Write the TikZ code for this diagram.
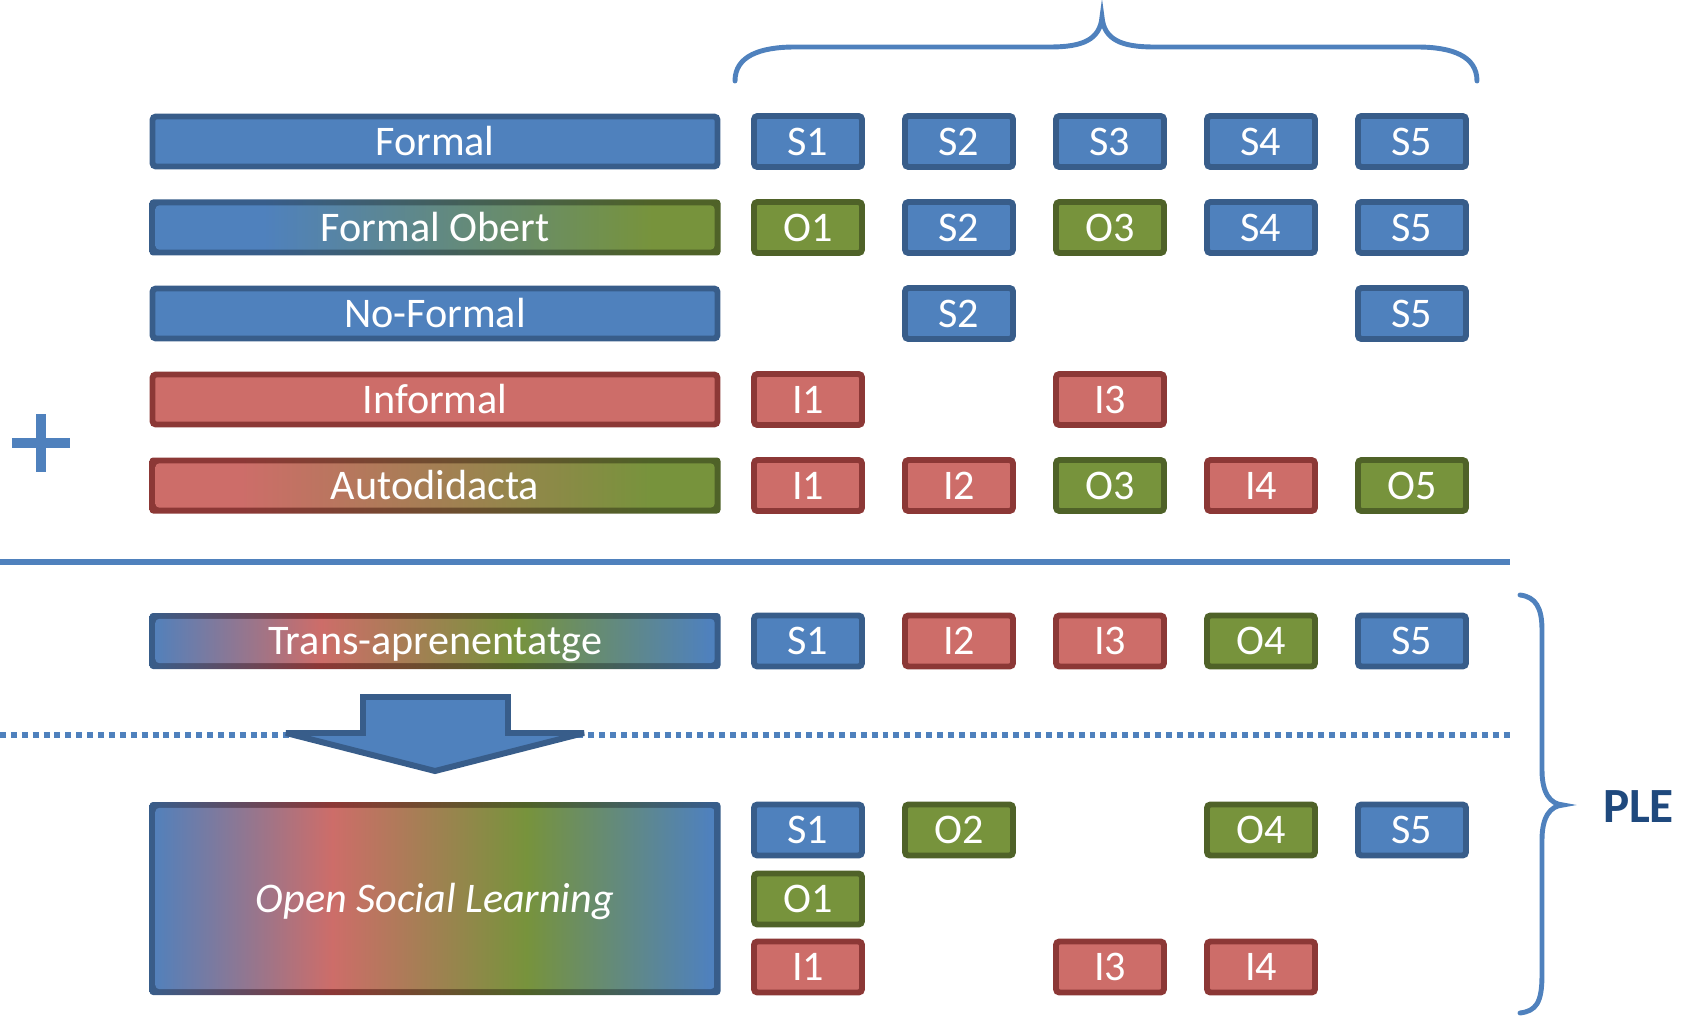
\documentclass[tikz,border=0pt]{standalone}
\usepackage{fontspec}
\setmainfont{Carlito}
\usepackage{xcolor}
\definecolor{colS}{RGB}{79,129,189}
\definecolor{colSd}{RGB}{56,93,138}
\definecolor{colI}{RGB}{205,109,105}
\definecolor{colId}{RGB}{140,56,54}
\definecolor{colO}{RGB}{119,147,60}
\definecolor{colOd}{RGB}{79,98,40}
\definecolor{colPLE}{RGB}{31,73,125}
\usepackage{tikz}

% gradients (path is mapped onto 25bp..75bp)
\pgfdeclarehorizontalshading{obert}{100bp}{color(0bp)=(colS); color(35bp)=(colS); color(69bp)=(colO); color(100bp)=(colO)}
\pgfdeclarehorizontalshading{obertd}{100bp}{color(0bp)=(colSd); color(35bp)=(colSd); color(69bp)=(colOd); color(100bp)=(colOd)}
\pgfdeclarehorizontalshading{autod}{100bp}{color(0bp)=(colI); color(33bp)=(colI); color(69bp)=(colO); color(100bp)=(colO)}
\pgfdeclarehorizontalshading{autodd}{100bp}{color(0bp)=(colId); color(33bp)=(colId); color(69bp)=(colOd); color(100bp)=(colOd)}
\pgfdeclarehorizontalshading{trans}{100bp}{color(0bp)=(colS); color(25bp)=(colS); color(40bp)=(colI); color(57bp)=(colO); color(74bp)=(colS); color(100bp)=(colS)}
\pgfdeclarehorizontalshading{transd}{100bp}{color(0bp)=(colSd); color(25bp)=(colSd); color(40bp)=(colId); color(57bp)=(colOd); color(74bp)=(colSd); color(100bp)=(colSd)}
\pgfdeclarehorizontalshading{osl}{100bp}{color(0bp)=(colS); color(25bp)=(colS); color(41bp)=(colI); color(58bp)=(colO); color(74bp)=(colS); color(100bp)=(colS)}
\pgfdeclarehorizontalshading{osld}{100bp}{color(0bp)=(colSd); color(25bp)=(colSd); color(41bp)=(colId); color(58bp)=(colOd); color(74bp)=(colSd); color(100bp)=(colSd)}

\tikzset{
  lbox/.style={minimum width=5.65cm, minimum height=0.50cm, inner sep=0pt, line width=1.7pt,
               rounded corners=1pt, text=white, text height=7.7pt, text depth=0pt,
               font=\fontsize{12}{14}\selectfont},
  gbox/.style={lbox, minimum width=5.71cm, minimum height=0.56cm, shade, shading=#1d,
               path picture={\shade[shading=#1]
                 ([shift={(1.7pt,1.7pt)}]path picture bounding box.south west) rectangle
                 ([shift={(-1.7pt,-1.7pt)}]path picture bounding box.north east);}},
  cell/.style={draw=col#1d, fill=col#1, line width=1.7pt, rounded corners=1pt,
               minimum width=1.08cm, minimum height=0.51cm, inner sep=0pt, text=white,
               text height=7.7pt, text depth=0pt, font=\fontsize{12}{14}\selectfont},
  bline/.style={colS, line width=1.4pt, line cap=round},
}

\begin{document}
\begin{tikzpicture}
\useasboundingbox (0,0) rectangle (16.99,10.18);

% === Brace over the columns ===
\draw[bline] (7.35,9.37) .. controls (7.35,9.62) and (7.60,9.71) .. (7.95,9.71) -- (10.50,9.71)
  .. controls (10.82,9.71) and (11.00,9.78) .. (11.02,10.01)
  .. controls (11.04,9.78) and (11.22,9.71) .. (11.54,9.71) -- (14.17,9.71)
  .. controls (14.52,9.71) and (14.77,9.62) .. (14.77,9.37);

% === Learning modes ===
\node[lbox, draw=colSd, fill=colS] (formal) at (4.35,8.765) {Formal};
\node[gbox=obert] (obert) at (4.35,7.905) {Formal Obert};
\node[lbox, draw=colSd, fill=colS] (noformal) at (4.35,7.045) {No-Formal};
\node[lbox, draw=colId, fill=colI] (informal) at (4.35,6.185) {Informal};
\node[gbox=autod] (autodid) at (4.35,5.325) {Autodidacta};

% Plus sign
\draw[colS, line width=2.8pt] (0.12,5.75) -- (0.70,5.75) (0.41,5.46) -- (0.41,6.04);

% === Separators ===
\draw[colS, line width=1.7pt] (0,4.56) -- (15.10,4.56);
\draw[colS, line width=1.5pt, dash pattern=on 1.7pt off 1.4pt] (0,2.83) -- (15.10,2.83);

% === Trans-learning and its result ===
\node[gbox=trans] (trans) at (4.35,3.77) {Trans-aprenentatge};
\draw[fill=colS, draw=colSd, line width=1.7pt, miter limit=4] (3.63,3.21) -- (5.08,3.21) -- (5.08,2.85)
  -- (5.84,2.85) -- (4.35,2.47) -- (2.86,2.85) -- (3.63,2.85) -- cycle;
\node[gbox=osl, minimum height=1.93cm, font=\fontsize{12}{14}\selectfont\itshape] (osl)
  at (4.35,1.195) {Open Social Learning};

% === Cells: column / letter / number ===
\foreach \r/\y/\row in {f/8.765/{1/S/1,2/S/2,3/S/3,4/S/4,5/S/5},
                        b/7.905/{1/O/1,2/S/2,3/O/3,4/S/4,5/S/5},
                        n/7.045/{2/S/2,5/S/5},
                        i/6.185/{1/I/1,3/I/3},
                        a/5.325/{1/I/1,2/I/2,3/O/3,4/I/4,5/O/5},
                        t/3.77/{1/S/1,2/I/2,3/I/3,4/O/4,5/S/5},
                        p/1.88/{1/S/1,2/O/2,4/O/4,5/S/5},
                        q/1.19/{1/O/1},
                        r/0.51/{1/I/1,3/I/3,4/I/4}} {
  \foreach \i/\l/\n in \row
    \node[cell=\l] (\r\i) at (6.57+1.51*\i,\y) {\l\n};
}

% === PLE brace ===
\draw[bline] (15.20,4.23) .. controls (15.36,4.21) and (15.42,4.10) .. (15.42,3.88) -- (15.42,2.48)
  .. controls (15.42,2.25) and (15.50,2.14) .. (15.63,2.13)
  .. controls (15.50,2.12) and (15.42,2.01) .. (15.42,1.78) -- (15.42,0.43)
  .. controls (15.42,0.15) and (15.36,0.07) .. (15.20,0.05);
\node[font=\fontsize{14}{16}\selectfont\bfseries, text=colPLE] (ple) at (16.385,2.11) {PLE};

\end{tikzpicture}
\end{document}
